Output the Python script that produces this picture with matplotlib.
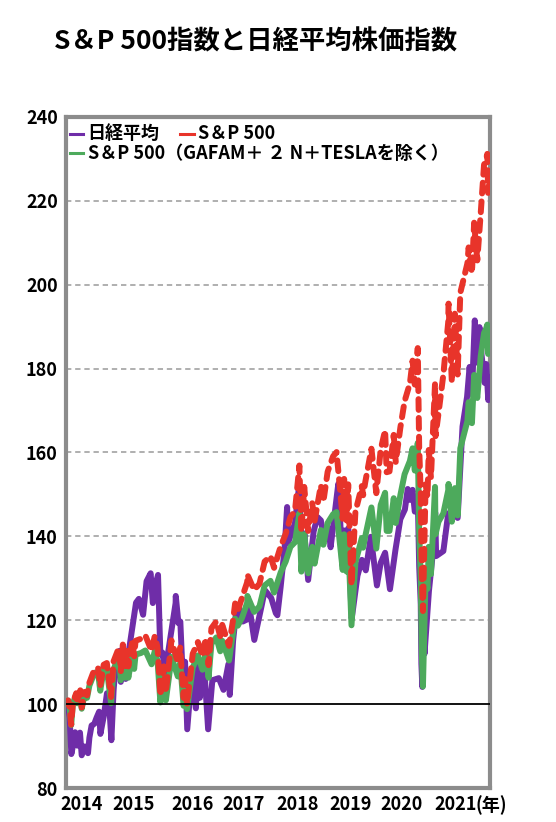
import matplotlib
matplotlib.use("Agg")
import matplotlib.pyplot as plt
import pandas as pd

plt.rcParams["font.family"] = ["Noto Sans CJK JP", "DejaVu Sans"]
plt.rcParams["font.weight"] = "bold"

PURPLE = "#6F2DA8"
RED = "#E8342A"
GREEN = "#4DAA5C"
FRAME = "#8C8C8C"
GRID = "#9A9A9A"

# --- Nikkei 225 (start = 100) ---
nk_dates = [
    "2014-01-06", "2014-01-15", "2014-01-24", "2014-02-04", "2014-02-14", "2014-02-28",
    "2014-03-14", "2014-03-31", "2014-04-11", "2014-04-30", "2014-05-21", "2014-05-30",
    "2014-06-13", "2014-06-30", "2014-07-15", "2014-07-31", "2014-08-08", "2014-08-29",
    "2014-09-19", "2014-09-30", "2014-10-17", "2014-10-31", "2014-11-14", "2014-11-28",
    "2014-12-08", "2014-12-16", "2014-12-30",
    "2015-01-16", "2015-01-30", "2015-02-27", "2015-03-23", "2015-04-10", "2015-05-07",
    "2015-05-29", "2015-06-24", "2015-07-08", "2015-07-31", "2015-08-10", "2015-08-25",
    "2015-09-07", "2015-09-29", "2015-10-14", "2015-11-30", "2015-12-01", "2015-12-18",
    "2015-12-30",
    "2016-01-21", "2016-01-29", "2016-02-12", "2016-03-14", "2016-04-07", "2016-04-22",
    "2016-05-02", "2016-05-31", "2016-06-24", "2016-07-21", "2016-08-31", "2016-09-30",
    "2016-10-31", "2016-11-09", "2016-11-30", "2016-12-21", "2016-12-30",
    "2017-01-04", "2017-01-31", "2017-02-28", "2017-03-13", "2017-04-14", "2017-05-31",
    "2017-06-20", "2017-07-31", "2017-08-29", "2017-09-08", "2017-09-29", "2017-10-24",
    "2017-11-09", "2017-11-15", "2017-12-29",
    "2018-01-23", "2018-02-14", "2018-02-27", "2018-03-23", "2018-04-27", "2018-05-21",
    "2018-06-12", "2018-06-29", "2018-07-31", "2018-08-13", "2018-09-28", "2018-10-02",
    "2018-10-26", "2018-11-08", "2018-11-21", "2018-12-03", "2018-12-25",
    "2019-01-04", "2019-01-31", "2019-02-28", "2019-03-25", "2019-04-26", "2019-05-17",
    "2019-06-04", "2019-06-28", "2019-07-26", "2019-08-26", "2019-09-30", "2019-10-31",
    "2019-11-29", "2019-12-17", "2019-12-30",
    "2020-01-17", "2020-01-31", "2020-02-20", "2020-02-28", "2020-03-09", "2020-03-13",
    "2020-03-19", "2020-03-25", "2020-04-02", "2020-04-30", "2020-05-29", "2020-06-09",
    "2020-06-15", "2020-07-31", "2020-08-31", "2020-09-30", "2020-10-30", "2020-11-30",
    "2020-12-29",
    "2021-01-14", "2021-01-29", "2021-02-16", "2021-03-05", "2021-03-18", "2021-03-31",
    "2021-04-20", "2021-04-30", "2021-05-13", "2021-05-21",
]
nikkei = [
    100.0, 99.4, 96.8, 88.1, 90.0, 93.3,
    90.1, 93.2, 87.8, 89.9, 88.3, 92.0,
    94.9, 95.3, 96.8, 98.2, 92.9, 97.0,
    102.6, 101.7, 91.4, 103.2, 109.9, 109.8,
    112.7, 105.3, 109.7,
    106.0, 111.1, 118.2, 124.2, 125.1, 121.3,
    129.3, 131.2, 124.1, 129.4, 130.8, 111.9,
    112.3, 106.4, 112.5, 124.1, 125.8, 119.3,
    119.7,
    100.7, 110.1, 94.0, 108.3, 99.0, 110.5,
    101.5, 108.3, 94.0, 105.7, 106.2, 103.4,
    109.5, 102.2, 115.1, 122.5, 120.2,
    123.2, 119.7, 120.2, 123.4, 115.3, 123.5,
    127.2, 125.3, 121.7, 121.2, 128.0, 137.1,
    147.0, 138.5, 143.1,
    151.6, 133.0, 140.7, 129.6, 141.2, 144.6,
    143.8, 140.2, 141.8, 137.4, 151.6, 152.6,
    133.2, 141.4, 135.2, 141.9, 120.4,
    123.0, 130.6, 134.4, 131.9, 139.9, 133.6,
    128.3, 133.7, 136.1, 127.4, 136.8, 144.1,
    146.4, 151.3, 148.7,
    151.1, 145.9, 147.6, 132.9, 123.8, 109.6,
    104.1, 122.9, 112.0, 126.9, 137.5, 145.7,
    135.3, 136.5, 145.5, 145.7, 144.4, 166.2,
    173.3,
    180.4, 173.9, 191.5, 181.4, 189.9, 183.4,
    176.6, 181.1, 172.5, 178.0,
]

# --- S&P 500 and S&P 500 ex GAFAM+2N+TESLA (start = 100) ---
us_dates = [
    "2014-01-03", "2014-01-15", "2014-01-23", "2014-02-03", "2014-02-14", "2014-03-07",
    "2014-03-14", "2014-04-02", "2014-04-11", "2014-04-30", "2014-05-15", "2014-05-30",
    "2014-06-20", "2014-07-03", "2014-07-24", "2014-08-07", "2014-08-29", "2014-09-18",
    "2014-10-15", "2014-10-31", "2014-11-28", "2014-12-05", "2014-12-16", "2014-12-29",
    "2015-01-15", "2015-01-22", "2015-02-02", "2015-02-27", "2015-03-11", "2015-03-20",
    "2015-04-24", "2015-05-21", "2015-06-30", "2015-07-20", "2015-08-07", "2015-08-25",
    "2015-09-16", "2015-09-29", "2015-10-30", "2015-11-03", "2015-12-14", "2015-12-29",
    "2016-01-20", "2016-01-29", "2016-02-11", "2016-03-18", "2016-04-20", "2016-05-19",
    "2016-06-08", "2016-06-27", "2016-07-15", "2016-08-15", "2016-09-09", "2016-09-22",
    "2016-11-04", "2016-11-30", "2016-12-13", "2016-12-30",
    "2017-01-26", "2017-02-28", "2017-03-01", "2017-04-13", "2017-05-17", "2017-06-19",
    "2017-07-26", "2017-08-18", "2017-09-29", "2017-10-31", "2017-11-30", "2017-12-29",
    "2018-01-26", "2018-02-08", "2018-02-26", "2018-03-23", "2018-04-18", "2018-05-03",
    "2018-06-12", "2018-06-28", "2018-07-25", "2018-08-29", "2018-09-20", "2018-10-29",
    "2018-11-07", "2018-11-23", "2018-12-03", "2018-12-24",
    "2019-01-18", "2019-02-28", "2019-03-08", "2019-03-22", "2019-04-30", "2019-05-31",
    "2019-06-28", "2019-07-26", "2019-08-05", "2019-08-23", "2019-09-19", "2019-10-02",
    "2019-10-31", "2019-11-27", "2019-12-31",
    "2020-01-17", "2020-01-31", "2020-02-19", "2020-02-28", "2020-03-09", "2020-03-16",
    "2020-03-23", "2020-04-09", "2020-04-21", "2020-04-29", "2020-05-13", "2020-06-08",
    "2020-06-11", "2020-06-30", "2020-07-31", "2020-08-31", "2020-09-02", "2020-09-23",
    "2020-10-12", "2020-10-30", "2020-11-16", "2020-12-31",
    "2021-01-08", "2021-01-29", "2021-02-12", "2021-03-04", "2021-03-26", "2021-04-16",
    "2021-04-29", "2021-05-07", "2021-05-12", "2021-05-21",
]
sp500 = [
    100.0, 100.9, 99.8, 95.1, 100.4, 102.6,
    100.5, 103.3, 99.2, 102.9, 102.1, 105.1,
    107.2, 108.4, 108.6, 104.3, 109.4, 109.8,
    101.7, 110.2, 112.9, 113.3, 107.8, 114.2,
    108.8, 112.7, 109.0, 115.0, 111.4, 115.1,
    115.6, 116.4, 112.7, 116.2, 113.5, 102.0,
    109.0, 102.8, 113.5, 115.2, 109.9, 113.5,
    101.5, 106.0, 99.9, 112.0, 114.8, 111.4,
    115.7, 109.3, 118.1, 119.7, 116.2, 118.9,
    113.9, 120.1, 124.0, 122.3,
    125.4, 129.1, 130.9, 127.2, 128.7, 134.0,
    135.3, 132.5, 137.6, 140.6, 144.6, 146.0,
    156.9, 141.0, 151.8, 141.3, 147.9, 143.6,
    152.2, 148.3, 155.4, 159.1, 160.1, 144.2,
    153.7, 143.8, 152.4, 128.4,
    145.9, 152.0, 149.8, 153.0, 160.9, 150.3,
    160.7, 165.3, 155.3, 155.5, 164.2, 157.7,
    165.9, 172.2, 176.5,
    181.9, 176.2, 184.9, 161.3, 150.0, 130.3,
    122.2, 152.4, 149.5, 160.6, 154.0, 176.5,
    163.9, 169.3, 178.6, 191.1, 195.5, 176.8,
    193.1, 178.6, 198.1, 205.1,
    208.9, 202.8, 214.8, 205.8, 217.1, 228.6,
    230.0, 231.2, 221.9, 227.0,
]
sp500_ex = [
    100.0, 100.8, 99.7, 95.0, 100.2, 102.3,
    100.2, 102.8, 98.9, 102.4, 101.5, 104.4,
    106.4, 107.5, 107.6, 103.2, 108.2, 108.4,
    100.2, 108.3, 110.8, 111.1, 105.7, 111.6,
    106.3, 109.7, 106.3, 111.8, 108.4, 111.8,
    112.2, 112.8, 109.5, 112.6, 110.3, 100.4,
    106.6, 100.9, 109.6, 111.3, 106.6, 109.8,
    99.6, 103.2, 98.8, 108.7, 111.6, 108.2,
    112.2, 106.3, 114.4, 115.9, 112.6, 115.1,
    110.4, 117.0, 120.4, 118.7,
    120.6, 124.2, 125.8, 122.0, 123.3, 128.3,
    129.4, 126.6, 131.4, 134.0, 137.5, 138.6,
    145.5, 131.6, 140.5, 131.2, 137.5, 133.5,
    141.5, 138.0, 143.2, 145.3, 145.8, 132.0,
    140.5, 131.6, 139.2, 118.8,
    133.8, 139.6, 137.3, 140.1, 146.9, 137.1,
    147.5, 150.4, 141.3, 141.3, 149.1, 143.2,
    149.8, 154.8, 158.0,
    161.0, 155.7, 162.3, 141.0, 130.0, 112.0,
    104.2, 130.5, 127.5, 137.5, 131.0, 151.8,
    140.5, 143.5, 145.5, 151.0, 152.5, 143.5,
    151.5, 145.0, 161.0, 167.5,
    172.0, 167.0, 178.5, 173.0, 183.0, 188.5,
    189.5, 190.5, 183.5, 188.0,
]

y_ticks = [80, 100, 120, 140, 160, 180, 200, 220, 240]
x_tick_dates = ["2014-04-12", "2015-03-10", "2016-03-14", "2017-02-03",
                "2018-01-12", "2018-12-17", "2019-11-10", "2020-10-16"]
x_tick_labels = ["2014", "2015", "2016", "2017", "2018", "2019", "2020", "2021"]

nk_x = pd.to_datetime(nk_dates)
us_x = pd.to_datetime(us_dates)

fig = plt.figure(figsize=(5.56, 8.22), dpi=100)
ax = fig.add_axes([66 / 556, 34 / 822, 424 / 556, 671 / 822])

for v in y_ticks[1:-1]:
    if v == 100:
        continue
    ax.axhline(v, color=GRID, lw=1.1, ls=(0, (3.5, 2.5)), zorder=1)
ax.axhline(100, color="black", lw=1.3, zorder=6)

ax.plot(nk_x, nikkei, color=PURPLE, lw=4.3, solid_capstyle="round",
        solid_joinstyle="round", zorder=3)
ax.plot(us_x, sp500_ex, color=GREEN, lw=4.3, solid_capstyle="round",
        solid_joinstyle="round", zorder=4)
ax.plot(us_x, sp500, color=RED, lw=4.3, ls=(0, (1.8, 1.35)),
        dash_capstyle="round", dash_joinstyle="round", zorder=5)

ax.set_ylim(80, 240)
ax.set_xlim(pd.Timestamp("2014-01-01"), pd.Timestamp("2021-05-24"))
ax.set_yticks(y_ticks)
ax.set_xticks(pd.to_datetime(x_tick_dates))
ax.set_xticklabels(x_tick_labels)
ax.tick_params(axis="both", length=0, labelsize=13, colors="black")
ax.tick_params(axis="y", pad=6)
ax.tick_params(axis="x", pad=5)
for lab in ax.get_xticklabels() + ax.get_yticklabels():
    lab.set_fontweight("bold")

for sp in ax.spines.values():
    sp.set_color(FRAME)
    sp.set_linewidth(3)

ax.text(0.965, -0.0104, "(年)", transform=ax.transAxes, ha="left", va="top",
        fontsize=13, fontweight="bold")

# legend drawn by hand (two rows)
leg = [(0.009, 0.975, PURPLE, "日経平均"),
       (0.270, 0.975, RED, "S＆P 500"),
       (0.009, 0.946, GREEN, "S＆P 500（GAFAM＋ ２ N＋TESLAを除く）")]
for x0, y0, c, lab in leg:
    ax.plot([x0, x0 + 0.032], [y0, y0], transform=ax.transAxes, color=c,
            lw=2.2, zorder=8)
    ax.text(x0 + 0.042, y0, lab, transform=ax.transAxes, ha="left",
            va="center", fontsize=13, fontweight="bold", zorder=8)

fig.text(0.459, 0.949, "S＆P 500指数と日経平均株価指数", ha="center",
         va="center", fontsize=19, fontweight="bold")

fig.savefig("out.png", dpi=100)
